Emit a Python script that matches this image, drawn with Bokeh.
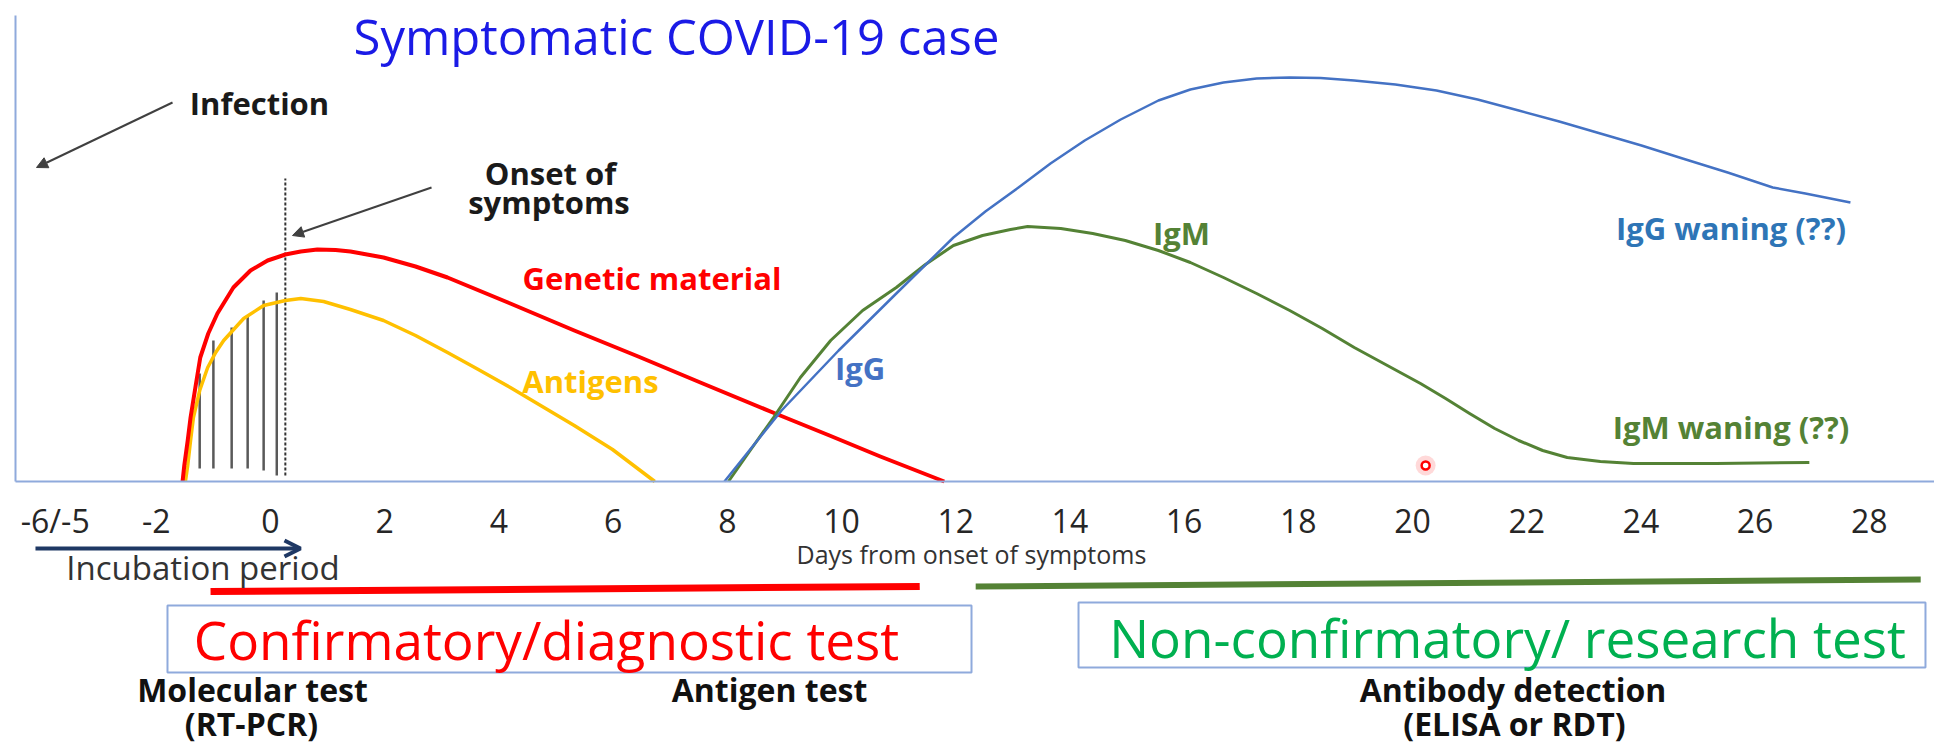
from bokeh.plotting import figure
from bokeh.models import (LinearAxis, FixedTicker, Range1d, Label, Arrow,
                          NormalHead, OpenHead)
from bokeh.embed import file_html
from bokeh.resources import INLINE

# ---------------- data (days from onset, relative level) ----------------
RNA_DAYS = [-1.54, -1.51, -1.45, -1.40, -1.31, -1.23, -1.09, -0.93, -0.65, -0.35,
            -0.05, 0.26, 0.53, 0.82, 1.14, 1.40, 1.98, 2.54, 3.10, 4.20, 5.32,
            6.44, 7.57, 8.84, 9.79, 10.68, 11.80]
RNA_LEVEL = [0.0, 4.0, 10.25, 16.0, 24.0, 31.0, 37.0, 42.0, 48.5, 52.75,
             55.25, 56.75, 57.5, 58.0, 57.9, 57.5, 56.0, 53.75, 51.0, 44.5, 37.75,
             31.25, 24.5, 17.0, 11.5, 6.25, 0.0]

AG_DAYS = [-1.49, -1.45, -1.40, -1.35, -1.24, -1.10, -0.96, -0.82, -0.47, -0.12,
           0.26, 0.53, 0.93, 1.40, 1.98, 2.54, 3.10, 3.64, 4.20, 4.76, 5.32,
           5.99, 6.73]
AG_LEVEL = [0.0, 4.0, 10.25, 16.0, 22.75, 28.5, 32.25, 35.25, 40.75, 44.0,
            45.25, 45.75, 45.0, 43.0, 40.25, 36.5, 32.25, 28.0, 23.5, 18.75, 14.0,
            8.0, 0.0]

IGG_DAYS = [7.95, 8.95, 9.95, 10.96, 11.96, 12.52, 13.10, 13.66, 14.26, 14.89,
            15.55, 16.11, 16.69, 17.27, 17.85, 18.39, 18.98, 19.70, 20.42, 21.14,
            21.86, 22.57, 23.29, 24.01, 24.73, 25.52, 26.31, 26.88, 27.67]
IGG_LEVEL = [0.0, 17.75, 32.75, 47.0, 61.0, 67.5, 73.5, 79.5, 85.25, 90.5,
             95.25, 98.0, 99.75, 100.75, 101.0, 100.9, 100.25, 99.25, 97.75, 95.5,
             92.75, 90.0, 87.0, 84.0, 80.75, 77.25, 73.5, 72.0, 69.75]

IGM_DAYS = [8.02, 8.40, 8.81, 9.28, 9.81, 10.37, 10.96, 11.47, 11.96, 12.47,
            12.96, 13.26, 13.84, 14.40, 14.97, 15.55, 16.11, 16.69, 17.27, 17.85,
            18.42, 18.98, 19.56, 20.14, 20.58, 21.00, 21.44, 21.86, 22.28, 22.71,
            23.29, 23.87, 25.31, 26.95]
IGM_LEVEL = [0.0, 7.75, 16.0, 26.0, 35.25, 42.75, 48.5, 54.25, 59.0, 61.5,
             63.0, 63.75, 63.25, 62.0, 60.25, 57.75, 54.75, 51.0, 47.0, 42.75,
             38.25, 33.5, 29.0, 24.5, 20.75, 17.0, 13.25, 10.25, 7.75, 6.0,
             5.0, 4.5, 4.5, 4.75]

HATCH_DAYS = [-1.24, -1.00, -0.68, -0.40, -0.12, 0.11]
HATCH_TOP = [27.0, 35.25, 38.5, 41.5, 45.25, 47.25]
HATCH_BOTTOM = [3.25, 3.25, 3.25, 3.25, 2.75, 1.5]

ONSET_DAY = 0.26

TICK_DAYS = [-3.77, -2, 0, 2, 4, 6, 8, 10, 12, 14, 16, 18, 20, 22, 24, 26, 28]
TICK_LABELS = ["-6/-5", "-2", "0", "2", "4", "6", "8", "10", "12", "14", "16",
               "18", "20", "22", "24", "26", "28"]

# ---------------- figure ----------------
FONT = "Open Sans"
p = figure(width=1934, height=746, x_range=Range1d(-4.7285, 29.142),
           y_range=Range1d(-66.25, 120.25), output_backend="svg",
           toolbar_location=None, x_axis_type=None, y_axis_type=None,
           min_border=0, outline_line_color=None)

AXIS_COLOR = "#8faadc"
xaxis = LinearAxis(fixed_location=0, bounds=(-4.466, 29.2),
                   ticker=FixedTicker(ticks=TICK_DAYS),
                   major_label_overrides=dict(zip(TICK_DAYS, TICK_LABELS)),
                   axis_line_color=AXIS_COLOR, axis_line_width=2,
                   major_tick_line_color=None, minor_tick_line_color=None,
                   major_label_text_font=FONT, major_label_text_font_size="32px",
                   major_label_text_color="#262626", major_label_standoff=11)
p.add_layout(xaxis, "below")

yaxis = LinearAxis(fixed_location=-4.466, bounds=(0, 116.5),
                   ticker=FixedTicker(ticks=[]),
                   axis_line_color=AXIS_COLOR, axis_line_width=2,
                   major_tick_line_color=None, minor_tick_line_color=None,
                   major_label_text_font_size="0px")
p.add_layout(yaxis, "left")

# hatch lines and onset marker
p.segment(x0=HATCH_DAYS, y0=HATCH_BOTTOM, x1=HATCH_DAYS, y1=HATCH_TOP,
          line_color="#595959", line_width=2.5)
p.segment(x0=[ONSET_DAY], y0=[1.5], x1=[ONSET_DAY], y1=[75.75],
          line_color="#333333", line_width=2, line_dash="3 2")

# curves
p.line(AG_DAYS, AG_LEVEL, line_color="#ffc000", line_width=3.5, line_join="round")
p.line(RNA_DAYS, RNA_LEVEL, line_color="#ff0000", line_width=4, line_join="round")
p.line(IGM_DAYS, IGM_LEVEL, line_color="#548235", line_width=3, line_join="round")
p.line(IGG_DAYS, IGG_LEVEL, line_color="#4472c4", line_width=2.5, line_join="round")

# pointer dot
p.scatter(x=[20.23], y=[4.0], size=20, fill_color="#ff8080", fill_alpha=0.3, line_color=None)
p.scatter(x=[20.23], y=[4.0], size=8, fill_color="white", line_color="#ff0000", line_width=2.5)

# arrows
p.add_layout(Arrow(end=NormalHead(size=11, fill_color="#404040", line_color="#404040"),
                   x_start=-1.716, y_start=94.75, x_end=-4.098, y_end=78.5,
                   line_color="#404040", line_width=2))
p.add_layout(Arrow(end=NormalHead(size=11, fill_color="#404040", line_color="#404040"),
                   x_start=2.82, y_start=73.5, x_end=0.385, y_end=61.5,
                   line_color="#404040", line_width=2))
p.add_layout(Arrow(end=OpenHead(size=16, line_width=4, line_color="#1f3864"),
                   x_start=-4.116, y_start=-16.75, x_end=0.525, y_end=-16.75,
                   line_color="#1f3864", line_width=4))

# test-window bars
p.segment(x0=[-1.05], y0=[-27.5], x1=[11.37], y1=[-26.25], line_color="#ff0000", line_width=7)
p.segment(x0=[12.35], y0=[-26.25], x1=[28.9], y1=[-24.5], line_color="#548235", line_width=6)

# boxes
p.quad(left=[-1.804, 14.151], right=[12.277, 28.984], top=[-31.0, -30.25],
       bottom=[-47.75, -46.5], fill_color=None, line_color=AXIS_COLOR, line_width=2)


def lab(x, y, text, size, color, bold=False):
    p.add_layout(Label(x=x, y=y, text=text, text_font=FONT, text_font_size=size,
                       text_color=color, text_align="center", text_baseline="middle",
                       text_font_style="bold" if bold else "normal"))


lab(7.11, 111.5, "Symptomatic COVID-19 case", "49px", "#1a1ae6")
lab(-0.193, 94.75, "Infection", "31px", "#1a1a1a", True)
lab(4.904, 77.25, "Onset of", "31px", "#1a1a1a", True)
lab(4.877, 70.0, "symptoms", "31px", "#1a1a1a", True)
lab(6.681, 51.0, "Genetic material", "31px", "#ff0000", True)
lab(5.604, 25.25, "Antigens", "31px", "#ffc000", True)
lab(10.324, 28.5, "IgG", "31px", "#4472c4", True)
lab(15.954, 62.25, "IgM", "31px", "#548235", True)
lab(25.578, 63.5, "IgG waning (??)", "31px", "#2e75b6", True)
lab(25.578, 13.75, "IgM waning (??)", "31px", "#548235", True)
lab(12.276, -18.0, "Days from onset of symptoms", "25px", "#333333")
lab(-1.182, -21.5, "Incubation period", "33px", "#333333")
lab(4.834, -39.5, "Confirmatory/diagnostic test", "53px", "#ff0000")
lab(21.664, -39.0, "Non-confirmatory/ research test", "53px", "#00b050")
lab(-0.315, -52.0, "Molecular test", "32px", "#111111", True)
lab(-0.333, -60.5, "(RT-PCR)", "32px", "#111111", True)
lab(8.739, -52.0, "Antigen test", "32px", "#111111", True)
lab(21.76, -52.0, "Antibody detection", "32px", "#111111", True)
lab(21.786, -60.5, "(ELISA or RDT)", "32px", "#111111", True)

open("out.html", "w").write(file_html(p, INLINE))
